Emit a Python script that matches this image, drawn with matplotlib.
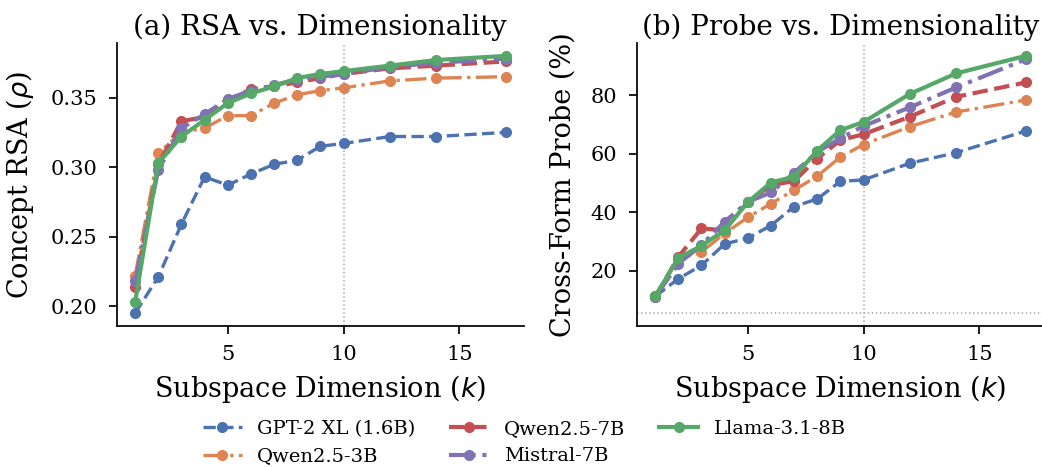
import numpy as np
import matplotlib
matplotlib.use("Agg")
import matplotlib.pyplot as plt

k = [1, 2, 3, 4, 5, 6, 7, 8, 9, 10, 12, 14, 17]
models = ["GPT-2 XL (1.6B)", "Qwen2.5-3B", "Qwen2.5-7B", "Mistral-7B", "Llama-3.1-8B"]

rsa_gpt2 = [0.195, 0.221, 0.259, 0.293, 0.287, 0.295, 0.302, 0.305, 0.315, 0.317, 0.322, 0.322, 0.325]
rsa_qwen3b = [0.222, 0.310, 0.325, 0.328, 0.337, 0.337, 0.346, 0.352, 0.355, 0.357, 0.362, 0.364, 0.365]
rsa_qwen7b = [0.214, 0.302, 0.333, 0.336, 0.348, 0.356, 0.358, 0.361, 0.364, 0.367, 0.371, 0.373, 0.376]
rsa_mistral = [0.218, 0.298, 0.328, 0.338, 0.349, 0.355, 0.359, 0.363, 0.365, 0.367, 0.372, 0.375, 0.378]
rsa_llama = [0.203, 0.303, 0.322, 0.334, 0.346, 0.353, 0.358, 0.364, 0.367, 0.369, 0.373, 0.377, 0.380]

probe_gpt2 = [11.3, 17.3, 21.9, 29.2, 31.2, 35.5, 42.0, 44.6, 50.6, 51.1, 56.8, 60.4, 67.8]
probe_qwen3b = [11.3, 24.0, 26.5, 32.8, 38.3, 43.0, 47.6, 52.4, 58.9, 63.2, 69.3, 74.3, 78.4]
probe_qwen7b = [11.0, 24.8, 34.5, 33.9, 43.6, 49.3, 50.7, 58.4, 64.7, 66.7, 72.7, 79.5, 84.4]
probe_mistral = [11.0, 22.5, 28.8, 36.8, 43.6, 46.8, 53.5, 60.7, 65.3, 69.5, 75.9, 82.7, 92.3]
probe_llama = [11.3, 24.4, 28.6, 33.9, 43.5, 50.2, 52.2, 61.1, 68.1, 70.9, 80.5, 87.5, 93.5]

chance_level = 100 / 18
ref_k = 10

rsa_series = [rsa_gpt2, rsa_qwen3b, rsa_qwen7b, rsa_mistral, rsa_llama]
probe_series = [probe_gpt2, probe_qwen3b, probe_qwen7b, probe_mistral, probe_llama]

colors = ["#4C72B0", "#DD8452", "#C44E52", "#8172B3", "#55A868"]
styles = ["--", "-.", "--", "-.", "-"]
widths = [2.4, 2.4, 3.0, 3.0, 3.0]

plt.rcParams["font.family"] = ["DejaVu Serif"]

fig = plt.figure(figsize=(10.42, 4.67), dpi=100)
ax1 = fig.add_axes([0.1119, 0.3019, 0.3911, 0.6060])
ax2 = fig.add_axes([0.6110, 0.3019, 0.3910, 0.6060])

handles = []
for ys, c, ls, lw, name in zip(rsa_series, colors, styles, widths, models):
    h, = ax1.plot(k, ys, color=c, linestyle=ls, linewidth=lw, marker="o", markersize=7, label=name)
    handles.append(h)
for ys, c, ls, lw in zip(probe_series, colors, styles, widths):
    ax2.plot(k, ys, color=c, linestyle=ls, linewidth=lw, marker="o", markersize=7)

ax1.axvline(ref_k, color="#aaaaaa", linestyle=":", linewidth=1.1, zorder=0)
ax2.axvline(ref_k, color="#aaaaaa", linestyle=":", linewidth=1.1, zorder=0)
ax2.axhline(chance_level, color="#aaaaaa", linestyle=":", linewidth=1.1, zorder=0)

ax1.set_yticks([0.20, 0.25, 0.30, 0.35])
ax2.set_yticks([20, 40, 60, 80])
for ax in (ax1, ax2):
    ax.set_xticks([5, 10, 15])
    ax.tick_params(labelsize=15, length=6, width=1.25, direction="out", pad=8)
    for s in ("top", "right"):
        ax.spines[s].set_visible(False)
    for s in ("left", "bottom"):
        ax.spines[s].set_linewidth(1.25)
    ax.set_xlabel("Subspace Dimension ($k$)", fontsize=19.5, labelpad=6)

ax1.set_ylabel(r"Concept RSA ($\rho$)", fontsize=19.5, labelpad=10)
ax2.set_ylabel("Cross-Form Probe (%)", fontsize=19.5, labelpad=10)
ax1.set_title("(a) RSA vs. Dimensionality", fontsize=20)
ax2.set_title("(b) Probe vs. Dimensionality", fontsize=20)

fig.legend(handles, models, loc="upper left", bbox_to_anchor=(0.187, 0.118), ncol=3,
           frameon=False, fontsize=14, handlelength=2.0, columnspacing=1.75,
           labelspacing=0.5, borderaxespad=0)

fig.savefig("out.png", dpi=100)
